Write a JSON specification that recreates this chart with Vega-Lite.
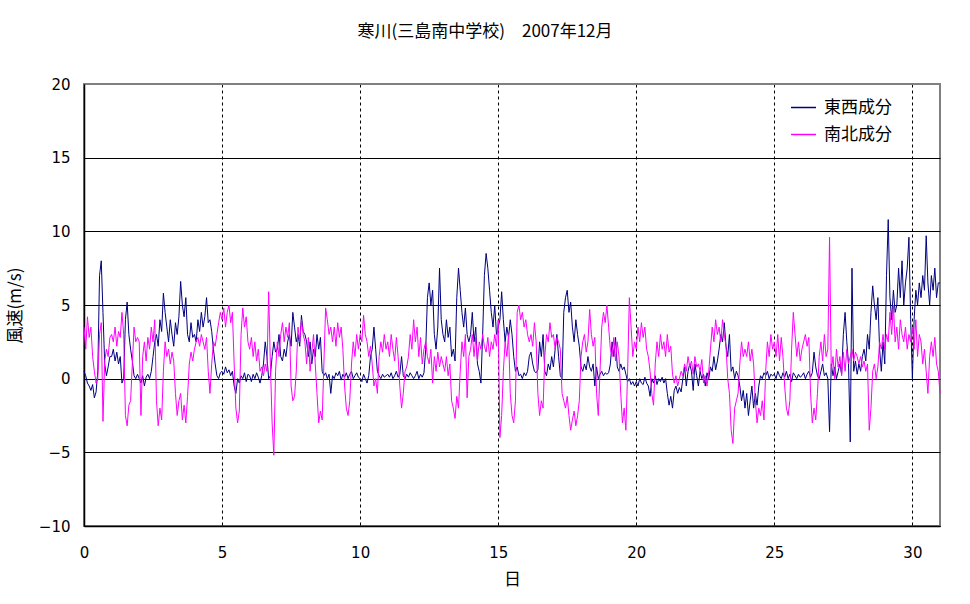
{
"$schema":"https://vega.github.io/schema/vega-lite/v6.json",
"width":856,"height":442,
"autosize":{"type":"none"},
"padding":{"left":84,"top":84,"right":30,"bottom":78},
"background":"white",
"config":{"font":"Noto Sans CJK JP","view":{"stroke":"#808080","strokeWidth":2}},
"title":{"text":"寒川(三島南中学校)　2007年12月","fontSize":17,"fontWeight":"normal","font":"Noto Sans CJK JP","color":"black","anchor":"middle","frame":"group","dx":-27,"offset":36},
"data":{"values":[
{"d":0,"e":0.5,"n":3.5},{"d":0.0625,"e":0.2,"n":2.0},{"d":0.125,"e":-0.3,"n":4.2},{"d":0.1875,"e":-0.5,"n":2.8},{"d":0.25,"e":-0.8,"n":3.5},{"d":0.3125,"e":-0.4,"n":1.5},{"d":0.375,"e":-1.3,"n":0.5},{"d":0.4375,"e":-0.9,"n":-0.3},{"d":0.5,"e":0.5,"n":0.0},{"d":0.5625,"e":7.0,"n":3.0},{"d":0.625,"e":8.0,"n":3.8},{"d":0.6875,"e":4.5,"n":-2.9},{"d":0.75,"e":1.0,"n":1.2},{"d":0.8125,"e":0.2,"n":2.0},{"d":0.875,"e":0.8,"n":1.5},{"d":0.9375,"e":1.5,"n":2.8},
{"d":1,"e":1.5,"n":3.0},{"d":1.0625,"e":2.0,"n":2.5},{"d":1.125,"e":1.2,"n":3.5},{"d":1.1875,"e":1.8,"n":2.2},{"d":1.25,"e":1.0,"n":3.2},{"d":1.3125,"e":1.5,"n":2.8},{"d":1.375,"e":-0.3,"n":4.5},{"d":1.4375,"e":0.0,"n":3.0},{"d":1.5,"e":4.0,"n":-2.5},{"d":1.5625,"e":5.2,"n":-3.2},{"d":1.625,"e":3.0,"n":-1.8},{"d":1.6875,"e":2.0,"n":-1.5},{"d":1.75,"e":1.2,"n":1.0},{"d":1.8125,"e":0.2,"n":3.5},{"d":1.875,"e":0.0,"n":2.5},{"d":1.9375,"e":0.3,"n":2.8},
{"d":2,"e":0.0,"n":2.5},{"d":2.0625,"e":-0.3,"n":-2.5},{"d":2.125,"e":0.2,"n":1.5},{"d":2.1875,"e":-0.5,"n":2.5},{"d":2.25,"e":0.1,"n":1.2},{"d":2.3125,"e":0.3,"n":2.8},{"d":2.375,"e":0.0,"n":2.0},{"d":2.4375,"e":0.5,"n":3.5},{"d":2.5,"e":1.5,"n":2.5},{"d":2.5625,"e":2.5,"n":4.0},{"d":2.625,"e":3.0,"n":-1.5},{"d":2.6875,"e":2.2,"n":-3.2},{"d":2.75,"e":4.0,"n":-2.0},{"d":2.8125,"e":3.2,"n":-2.8},{"d":2.875,"e":5.8,"n":0.5},{"d":2.9375,"e":4.5,"n":2.5},
{"d":3,"e":3.5,"n":1.5},{"d":3.0625,"e":2.5,"n":2.0},{"d":3.125,"e":4.0,"n":1.0},{"d":3.1875,"e":3.0,"n":1.8},{"d":3.25,"e":2.2,"n":1.2},{"d":3.3125,"e":3.8,"n":-1.0},{"d":3.375,"e":3.0,"n":-2.5},{"d":3.4375,"e":4.2,"n":-1.5},{"d":3.5,"e":6.6,"n":-1.0},{"d":3.5625,"e":5.0,"n":-2.8},{"d":3.625,"e":4.2,"n":-1.8},{"d":3.6875,"e":5.5,"n":-3.0},{"d":3.75,"e":3.0,"n":-1.2},{"d":3.8125,"e":2.5,"n":1.0},{"d":3.875,"e":3.8,"n":1.8},{"d":3.9375,"e":2.8,"n":1.2},
{"d":4,"e":3.0,"n":2.0},{"d":4.0625,"e":2.5,"n":2.5},{"d":4.125,"e":4.0,"n":2.8},{"d":4.1875,"e":3.2,"n":2.2},{"d":4.25,"e":4.5,"n":3.0},{"d":4.3125,"e":3.5,"n":2.5},{"d":4.375,"e":4.2,"n":2.0},{"d":4.4375,"e":5.5,"n":2.8},{"d":4.5,"e":3.8,"n":0.5},{"d":4.5625,"e":4.0,"n":-1.0},{"d":4.625,"e":3.2,"n":1.0},{"d":4.6875,"e":2.0,"n":2.5},{"d":4.75,"e":1.0,"n":2.2},{"d":4.8125,"e":0.2,"n":3.0},{"d":4.875,"e":0.0,"n":3.8},{"d":4.9375,"e":0.4,"n":4.5},
{"d":5,"e":0.5,"n":4.0},{"d":5.0625,"e":0.3,"n":4.8},{"d":5.125,"e":0.8,"n":3.5},{"d":5.1875,"e":0.4,"n":4.5},{"d":5.25,"e":0.6,"n":5.0},{"d":5.3125,"e":0.2,"n":3.8},{"d":5.375,"e":0.5,"n":4.5},{"d":5.4375,"e":-0.5,"n":1.0},{"d":5.5,"e":-1.0,"n":-2.0},{"d":5.5625,"e":0.0,"n":-3.0},{"d":5.625,"e":-0.3,"n":-2.2},{"d":5.6875,"e":0.2,"n":3.0},{"d":5.75,"e":0.0,"n":4.8},{"d":5.8125,"e":0.4,"n":3.5},{"d":5.875,"e":-0.2,"n":4.2},{"d":5.9375,"e":0.3,"n":2.5},
{"d":6,"e":0.2,"n":2.0},{"d":6.0625,"e":-0.2,"n":2.8},{"d":6.125,"e":0.3,"n":1.5},{"d":6.1875,"e":0.0,"n":2.5},{"d":6.25,"e":0.4,"n":1.2},{"d":6.3125,"e":0.1,"n":2.0},{"d":6.375,"e":-0.3,"n":0.5},{"d":6.4375,"e":0.2,"n":0.8},{"d":6.5,"e":1.0,"n":0.2},{"d":6.5625,"e":2.5,"n":1.0},{"d":6.625,"e":1.5,"n":0.5},{"d":6.6875,"e":0.0,"n":5.9},{"d":6.75,"e":0.2,"n":1.0},{"d":6.8125,"e":1.5,"n":-3.0},{"d":6.875,"e":2.5,"n":-5.2},{"d":6.9375,"e":1.8,"n":0.5},
{"d":7,"e":2.0,"n":2.5},{"d":7.0625,"e":3.0,"n":1.5},{"d":7.125,"e":1.5,"n":3.0},{"d":7.1875,"e":1.2,"n":3.8},{"d":7.25,"e":2.0,"n":2.5},{"d":7.3125,"e":1.5,"n":3.5},{"d":7.375,"e":2.5,"n":2.8},{"d":7.4375,"e":3.0,"n":3.8},{"d":7.5,"e":2.2,"n":-0.5},{"d":7.5625,"e":4.5,"n":-1.5},{"d":7.625,"e":3.5,"n":-1.2},{"d":7.6875,"e":2.5,"n":0.5},{"d":7.75,"e":3.0,"n":3.5},{"d":7.8125,"e":2.2,"n":2.5},{"d":7.875,"e":4.3,"n":4.0},{"d":7.9375,"e":3.2,"n":3.0},
{"d":8,"e":3.0,"n":2.5},{"d":8.0625,"e":2.5,"n":1.0},{"d":8.125,"e":1.5,"n":2.8},{"d":8.1875,"e":2.5,"n":0.5},{"d":8.25,"e":1.0,"n":1.8},{"d":8.3125,"e":2.0,"n":3.0},{"d":8.375,"e":1.5,"n":1.0},{"d":8.4375,"e":3.0,"n":-1.0},{"d":8.5,"e":2.0,"n":-3.0},{"d":8.5625,"e":2.8,"n":-2.2},{"d":8.625,"e":0.5,"n":-2.8},{"d":8.6875,"e":0.2,"n":1.0},{"d":8.75,"e":0.4,"n":4.8},{"d":8.8125,"e":0.0,"n":4.0},{"d":8.875,"e":0.3,"n":3.0},{"d":8.9375,"e":-1.0,"n":3.5},
{"d":9,"e":0.2,"n":2.5},{"d":9.0625,"e":0.0,"n":3.5},{"d":9.125,"e":0.4,"n":2.2},{"d":9.1875,"e":0.2,"n":3.8},{"d":9.25,"e":0.5,"n":2.8},{"d":9.3125,"e":-0.1,"n":3.5},{"d":9.375,"e":0.3,"n":2.0},{"d":9.4375,"e":0.1,"n":-0.5},{"d":9.5,"e":0.4,"n":-2.0},{"d":9.5625,"e":0.0,"n":-2.5},{"d":9.625,"e":0.3,"n":-1.5},{"d":9.6875,"e":0.5,"n":1.0},{"d":9.75,"e":0.0,"n":2.5},{"d":9.8125,"e":0.2,"n":1.5},{"d":9.875,"e":0.4,"n":3.0},{"d":9.9375,"e":0.1,"n":2.0},
{"d":10,"e":0.0,"n":3.0},{"d":10.0625,"e":-0.2,"n":2.5},{"d":10.125,"e":0.3,"n":4.3},{"d":10.1875,"e":0.0,"n":3.0},{"d":10.25,"e":-0.3,"n":2.5},{"d":10.3125,"e":0.2,"n":1.5},{"d":10.375,"e":1.5,"n":2.2},{"d":10.4375,"e":2.0,"n":1.0},{"d":10.5,"e":3.5,"n":-0.5},{"d":10.5625,"e":2.0,"n":0.0},{"d":10.625,"e":0.5,"n":-1.0},{"d":10.6875,"e":0.2,"n":1.5},{"d":10.75,"e":0.0,"n":2.5},{"d":10.8125,"e":0.3,"n":1.8},{"d":10.875,"e":0.1,"n":3.0},{"d":10.9375,"e":0.2,"n":2.0},
{"d":11,"e":0.3,"n":2.5},{"d":11.0625,"e":0.1,"n":1.5},{"d":11.125,"e":0.4,"n":3.0},{"d":11.1875,"e":0.0,"n":2.0},{"d":11.25,"e":0.2,"n":1.2},{"d":11.3125,"e":0.5,"n":2.8},{"d":11.375,"e":0.1,"n":1.5},{"d":11.4375,"e":0.3,"n":-0.5},{"d":11.5,"e":1.5,"n":-2.0},{"d":11.5625,"e":0.2,"n":-1.0},{"d":11.625,"e":0.0,"n":0.5},{"d":11.6875,"e":0.3,"n":0.8},{"d":11.75,"e":0.1,"n":1.5},{"d":11.8125,"e":0.4,"n":3.0},{"d":11.875,"e":0.2,"n":2.0},{"d":11.9375,"e":0.0,"n":4.0},
{"d":12,"e":0.2,"n":2.5},{"d":12.0625,"e":0.5,"n":3.5},{"d":12.125,"e":0.0,"n":1.5},{"d":12.1875,"e":0.3,"n":2.8},{"d":12.25,"e":0.1,"n":1.0},{"d":12.3125,"e":0.4,"n":2.0},{"d":12.375,"e":2.0,"n":2.5},{"d":12.4375,"e":5.5,"n":1.5},{"d":12.5,"e":6.5,"n":1.0},{"d":12.5625,"e":5.0,"n":2.0},{"d":12.625,"e":6.0,"n":-0.3},{"d":12.6875,"e":3.0,"n":1.5},{"d":12.75,"e":2.0,"n":0.5},{"d":12.8125,"e":3.5,"n":1.8},{"d":12.875,"e":7.5,"n":0.8},{"d":12.9375,"e":4.0,"n":1.5},
{"d":13,"e":3.0,"n":1.0},{"d":13.0625,"e":2.5,"n":0.5},{"d":13.125,"e":4.0,"n":1.5},{"d":13.1875,"e":2.8,"n":0.2},{"d":13.25,"e":3.5,"n":1.0},{"d":13.3125,"e":1.5,"n":-1.5},{"d":13.375,"e":2.0,"n":-2.0},{"d":13.4375,"e":1.2,"n":-2.7},{"d":13.5,"e":5.5,"n":-1.2},{"d":13.5625,"e":7.5,"n":-2.0},{"d":13.625,"e":6.0,"n":0.5},{"d":13.6875,"e":4.5,"n":2.5},{"d":13.75,"e":3.5,"n":1.5},{"d":13.8125,"e":4.8,"n":3.0},{"d":13.875,"e":3.0,"n":-1.3},{"d":13.9375,"e":2.5,"n":1.5},
{"d":14,"e":3.0,"n":2.0},{"d":14.0625,"e":4.5,"n":3.0},{"d":14.125,"e":2.5,"n":1.5},{"d":14.1875,"e":3.5,"n":2.8},{"d":14.25,"e":1.0,"n":1.2},{"d":14.3125,"e":0.5,"n":2.5},{"d":14.375,"e":-0.3,"n":2.0},{"d":14.4375,"e":3.0,"n":3.0},{"d":14.5,"e":7.0,"n":2.2},{"d":14.5625,"e":8.5,"n":1.8},{"d":14.625,"e":7.5,"n":2.8},{"d":14.6875,"e":6.0,"n":1.5},{"d":14.75,"e":4.5,"n":2.5},{"d":14.8125,"e":3.5,"n":2.0},{"d":14.875,"e":5.0,"n":3.0},{"d":14.9375,"e":3.0,"n":2.2},
{"d":15,"e":3.5,"n":4.0},{"d":15.0625,"e":4.0,"n":-4.0},{"d":15.125,"e":5.9,"n":-2.5},{"d":15.1875,"e":4.0,"n":0.5},{"d":15.25,"e":2.5,"n":2.5},{"d":15.3125,"e":3.5,"n":1.5},{"d":15.375,"e":2.8,"n":3.0},{"d":15.4375,"e":4.0,"n":-1.0},{"d":15.5,"e":3.0,"n":-2.5},{"d":15.5625,"e":1.5,"n":-3.0},{"d":15.625,"e":0.5,"n":-1.5},{"d":15.6875,"e":0.8,"n":4.5},{"d":15.75,"e":0.2,"n":5.0},{"d":15.8125,"e":0.3,"n":4.0},{"d":15.875,"e":0.0,"n":4.5},{"d":15.9375,"e":0.4,"n":3.5},
{"d":16,"e":0.2,"n":4.0},{"d":16.0625,"e":0.5,"n":3.0},{"d":16.125,"e":1.5,"n":2.5},{"d":16.1875,"e":1.8,"n":3.0},{"d":16.25,"e":1.0,"n":2.2},{"d":16.3125,"e":0.5,"n":3.8},{"d":16.375,"e":0.4,"n":2.5},{"d":16.4375,"e":0.6,"n":-1.0},{"d":16.5,"e":2.5,"n":-2.5},{"d":16.5625,"e":1.5,"n":-1.5},{"d":16.625,"e":3.0,"n":-2.0},{"d":16.6875,"e":0.5,"n":1.5},{"d":16.75,"e":0.2,"n":3.0},{"d":16.8125,"e":1.0,"n":2.5},{"d":16.875,"e":0.6,"n":3.8},{"d":16.9375,"e":1.5,"n":2.8},
{"d":17,"e":0.8,"n":3.0},{"d":17.0625,"e":2.0,"n":2.0},{"d":17.125,"e":3.0,"n":2.8},{"d":17.1875,"e":1.5,"n":2.5},{"d":17.25,"e":0.2,"n":2.0},{"d":17.3125,"e":0.0,"n":-1.0},{"d":17.375,"e":4.5,"n":-1.5},{"d":17.4375,"e":5.5,"n":-2.0},{"d":17.5,"e":6.0,"n":-1.2},{"d":17.5625,"e":4.5,"n":-2.5},{"d":17.625,"e":5.2,"n":-3.5},{"d":17.6875,"e":3.5,"n":-2.8},{"d":17.75,"e":2.5,"n":-2.2},{"d":17.8125,"e":4.0,"n":-3.2},{"d":17.875,"e":3.0,"n":-2.5},{"d":17.9375,"e":2.2,"n":-1.5},
{"d":18,"e":0.8,"n":1.5},{"d":18.0625,"e":0.5,"n":2.5},{"d":18.125,"e":1.0,"n":3.0},{"d":18.1875,"e":0.6,"n":1.8},{"d":18.25,"e":1.5,"n":2.5},{"d":18.3125,"e":0.8,"n":4.7},{"d":18.375,"e":0.5,"n":3.0},{"d":18.4375,"e":1.0,"n":2.2},{"d":18.5,"e":-0.5,"n":2.8},{"d":18.5625,"e":0.8,"n":-1.0},{"d":18.625,"e":0.0,"n":-2.5},{"d":18.6875,"e":0.3,"n":0.5},{"d":18.75,"e":0.5,"n":3.5},{"d":18.8125,"e":0.2,"n":4.5},{"d":18.875,"e":0.4,"n":3.8},{"d":18.9375,"e":0.3,"n":5.0},
{"d":19,"e":0.4,"n":3.5},{"d":19.0625,"e":1.0,"n":2.0},{"d":19.125,"e":2.5,"n":1.5},{"d":19.1875,"e":1.5,"n":2.8},{"d":19.25,"e":2.8,"n":1.2},{"d":19.3125,"e":0.8,"n":2.5},{"d":19.375,"e":0.5,"n":1.5},{"d":19.4375,"e":1.0,"n":-1.0},{"d":19.5,"e":0.6,"n":-3.0},{"d":19.5625,"e":0.8,"n":-2.0},{"d":19.625,"e":0.3,"n":-3.5},{"d":19.6875,"e":-0.2,"n":0.5},{"d":19.75,"e":0.0,"n":5.5},{"d":19.8125,"e":-0.4,"n":3.5},{"d":19.875,"e":-0.2,"n":1.5},{"d":19.9375,"e":-0.5,"n":2.5},
{"d":20,"e":-0.2,"n":2.0},{"d":20.0625,"e":-0.5,"n":3.5},{"d":20.125,"e":0.0,"n":2.5},{"d":20.1875,"e":-0.3,"n":3.8},{"d":20.25,"e":-0.4,"n":2.8},{"d":20.3125,"e":0.1,"n":3.5},{"d":20.375,"e":-0.3,"n":2.0},{"d":20.4375,"e":-0.5,"n":1.5},{"d":20.5,"e":-1.2,"n":0.5},{"d":20.5625,"e":0.0,"n":-1.0},{"d":20.625,"e":-0.3,"n":-1.8},{"d":20.6875,"e":0.2,"n":1.0},{"d":20.75,"e":-0.4,"n":2.5},{"d":20.8125,"e":0.0,"n":1.5},{"d":20.875,"e":-0.2,"n":3.0},{"d":20.9375,"e":0.1,"n":2.0},
{"d":21,"e":-0.3,"n":2.5},{"d":21.0625,"e":0.0,"n":1.5},{"d":21.125,"e":-1.0,"n":3.0},{"d":21.1875,"e":-1.8,"n":1.8},{"d":21.25,"e":-1.2,"n":2.2},{"d":21.3125,"e":-2.0,"n":0.3},{"d":21.375,"e":-0.8,"n":-0.3},{"d":21.4375,"e":-0.5,"n":0.2},{"d":21.5,"e":-1.0,"n":-0.5},{"d":21.5625,"e":-0.6,"n":0.0},{"d":21.625,"e":-0.9,"n":0.5},{"d":21.6875,"e":0.0,"n":0.2},{"d":21.75,"e":0.8,"n":1.0},{"d":21.8125,"e":-0.5,"n":0.5},{"d":21.875,"e":0.5,"n":1.5},{"d":21.9375,"e":1.0,"n":0.8},
{"d":22,"e":0.5,"n":1.2},{"d":22.0625,"e":-0.8,"n":0.3},{"d":22.125,"e":1.0,"n":1.5},{"d":22.1875,"e":0.2,"n":0.8},{"d":22.25,"e":-0.5,"n":1.0},{"d":22.3125,"e":0.5,"n":0.5},{"d":22.375,"e":0.0,"n":1.3},{"d":22.4375,"e":0.3,"n":-0.3},{"d":22.5,"e":-0.5,"n":0.2},{"d":22.5625,"e":0.4,"n":-0.5},{"d":22.625,"e":0.0,"n":0.5},{"d":22.6875,"e":0.8,"n":2.0},{"d":22.75,"e":0.5,"n":3.5},{"d":22.8125,"e":1.5,"n":2.5},{"d":22.875,"e":0.6,"n":4.0},{"d":22.9375,"e":1.2,"n":3.0},
{"d":23,"e":2.0,"n":3.5},{"d":23.0625,"e":3.0,"n":2.5},{"d":23.125,"e":2.5,"n":4.0},{"d":23.1875,"e":3.8,"n":3.0},{"d":23.25,"e":2.2,"n":2.2},{"d":23.3125,"e":1.5,"n":0.0},{"d":23.375,"e":3.0,"n":-1.0},{"d":23.4375,"e":0.5,"n":-3.5},{"d":23.5,"e":0.8,"n":-4.4},{"d":23.5625,"e":0.0,"n":-2.0},{"d":23.625,"e":0.5,"n":-1.5},{"d":23.6875,"e":0.2,"n":-1.0},{"d":23.75,"e":-0.5,"n":1.0},{"d":23.8125,"e":-1.5,"n":2.5},{"d":23.875,"e":-0.8,"n":1.5},{"d":23.9375,"e":-2.0,"n":2.0},
{"d":24,"e":-1.0,"n":1.5},{"d":24.0625,"e":-2.5,"n":2.5},{"d":24.125,"e":-1.5,"n":1.2},{"d":24.1875,"e":-0.5,"n":2.0},{"d":24.25,"e":-2.0,"n":1.0},{"d":24.3125,"e":-1.0,"n":-1.5},{"d":24.375,"e":-1.8,"n":-3.0},{"d":24.4375,"e":-0.5,"n":-2.0},{"d":24.5,"e":0.2,"n":-2.5},{"d":24.5625,"e":0.0,"n":-1.5},{"d":24.625,"e":0.4,"n":-2.8},{"d":24.6875,"e":0.2,"n":0.5},{"d":24.75,"e":0.5,"n":2.5},{"d":24.8125,"e":0.0,"n":1.5},{"d":24.875,"e":0.3,"n":3.0},{"d":24.9375,"e":0.2,"n":2.0},
{"d":25,"e":0.3,"n":2.5},{"d":25.0625,"e":0.0,"n":1.5},{"d":25.125,"e":0.5,"n":3.0},{"d":25.1875,"e":0.2,"n":1.2},{"d":25.25,"e":0.0,"n":2.8},{"d":25.3125,"e":0.4,"n":1.5},{"d":25.375,"e":0.1,"n":-0.5},{"d":25.4375,"e":0.5,"n":-2.0},{"d":25.5,"e":0.0,"n":-2.5},{"d":25.5625,"e":0.3,"n":-1.5},{"d":25.625,"e":-0.2,"n":2.0},{"d":25.6875,"e":0.4,"n":4.5},{"d":25.75,"e":0.2,"n":3.0},{"d":25.8125,"e":0.0,"n":1.5},{"d":25.875,"e":0.3,"n":2.5},{"d":25.9375,"e":0.1,"n":1.2},
{"d":26,"e":0.2,"n":2.0},{"d":26.0625,"e":0.4,"n":2.5},{"d":26.125,"e":0.0,"n":3.0},{"d":26.1875,"e":0.3,"n":2.2},{"d":26.25,"e":0.5,"n":2.8},{"d":26.3125,"e":0.1,"n":-1.0},{"d":26.375,"e":0.4,"n":-3.0},{"d":26.4375,"e":1.8,"n":-2.0},{"d":26.5,"e":0.8,"n":-2.8},{"d":26.5625,"e":0.2,"n":-1.0},{"d":26.625,"e":0.0,"n":1.5},{"d":26.6875,"e":0.5,"n":2.5},{"d":26.75,"e":1.0,"n":1.2},{"d":26.8125,"e":0.2,"n":3.0},{"d":26.875,"e":0.4,"n":1.5},{"d":26.9375,"e":0.0,"n":2.0},
{"d":27,"e":-3.6,"n":9.6},{"d":27.0625,"e":1.0,"n":0.5},{"d":27.125,"e":0.2,"n":1.5},{"d":27.1875,"e":0.8,"n":0.0},{"d":27.25,"e":0.0,"n":2.0},{"d":27.3125,"e":0.5,"n":0.8},{"d":27.375,"e":1.0,"n":1.5},{"d":27.4375,"e":0.3,"n":0.2},{"d":27.5,"e":3.0,"n":1.8},{"d":27.5625,"e":4.5,"n":0.5},{"d":27.625,"e":2.5,"n":2.0},{"d":27.6875,"e":1.0,"n":1.0},{"d":27.75,"e":-4.3,"n":1.5},{"d":27.8125,"e":7.5,"n":2.0},{"d":27.875,"e":0.5,"n":1.2},{"d":27.9375,"e":1.2,"n":1.8},
{"d":28,"e":0.3,"n":1.5},{"d":28.0625,"e":1.0,"n":1.0},{"d":28.125,"e":0.5,"n":1.5},{"d":28.1875,"e":1.5,"n":0.8},{"d":28.25,"e":2.0,"n":1.2},{"d":28.3125,"e":1.2,"n":0.5},{"d":28.375,"e":3.0,"n":1.0},{"d":28.4375,"e":2.0,"n":-3.5},{"d":28.5,"e":4.5,"n":-2.0},{"d":28.5625,"e":6.3,"n":0.5},{"d":28.625,"e":5.0,"n":1.0},{"d":28.6875,"e":4.0,"n":0.0},{"d":28.75,"e":5.5,"n":0.8},{"d":28.8125,"e":2.0,"n":2.5},{"d":28.875,"e":0.5,"n":2.0},{"d":28.9375,"e":2.5,"n":3.0},
{"d":29,"e":1.0,"n":2.0},{"d":29.0625,"e":7.0,"n":3.0},{"d":29.125,"e":10.8,"n":2.5},{"d":29.1875,"e":5.5,"n":4.5},{"d":29.25,"e":4.0,"n":3.0},{"d":29.3125,"e":6.0,"n":5.0},{"d":29.375,"e":4.5,"n":2.5},{"d":29.4375,"e":5.0,"n":3.5},{"d":29.5,"e":7.5,"n":2.0},{"d":29.5625,"e":5.5,"n":4.0},{"d":29.625,"e":8.0,"n":3.0},{"d":29.6875,"e":5.0,"n":2.5},{"d":29.75,"e":6.5,"n":3.5},{"d":29.8125,"e":7.5,"n":2.0},{"d":29.875,"e":9.6,"n":3.0},{"d":29.9375,"e":4.0,"n":2.5},
{"d":30,"e":0.0,"n":3.5},{"d":30.0625,"e":4.0,"n":2.0},{"d":30.125,"e":6.0,"n":4.0},{"d":30.1875,"e":5.0,"n":1.5},{"d":30.25,"e":6.5,"n":3.0},{"d":30.3125,"e":5.5,"n":2.5},{"d":30.375,"e":7.0,"n":1.0},{"d":30.4375,"e":6.0,"n":2.0},{"d":30.5,"e":9.7,"n":0.5},{"d":30.5625,"e":6.5,"n":-1.0},{"d":30.625,"e":5.0,"n":1.5},{"d":30.6875,"e":7.0,"n":2.5},{"d":30.75,"e":6.0,"n":1.5},{"d":30.8125,"e":7.5,"n":2.8},{"d":30.875,"e":5.5,"n":1.0},{"d":30.9375,"e":6.5,"n":0.5},
{"d":31,"e":6.5,"n":-1.0}
]},
"transform":[{"fold":["e","n"],"as":["k","v"]}],
"encoding":{
"x":{"field":"d","type":"quantitative","scale":{"domain":[0,31],"nice":false,"zero":false},
"axis":{"title":"日","values":[0,5,10,15,20,25,30],"grid":true,"gridColor":"black","gridDash":[3,3],"gridWidth":1,"domainColor":"black","domainWidth":1.5,"ticks":false,"labelFlush":false,"labelPadding":19,"labelFontSize":15,"labelColor":"black","labelFont":"DejaVu Sans","titleFontSize":17,"titleFontWeight":"normal","titleColor":"black","titlePadding":11,"labelFontWeight":"normal"}},
"y":{"field":"v","type":"quantitative","scale":{"domain":[-10,20],"nice":false},
"axis":{"title":"風速(m/s)","values":[-10,-5,0,5,10,15,20],"grid":true,"gridColor":{"condition":{"test":"datum.value == 20","value":"#808080"},"value":"black"},"gridWidth":1,"domainColor":"black","domainWidth":1.5,"ticks":false,"labelFlush":false,"labelPadding":14,"labelFontSize":15,"labelColor":"black","labelFont":"DejaVu Sans","titleFontSize":17,"titleFontWeight":"normal","titleColor":"black","titlePadding":14}},
"color":{"field":"k","type":"nominal","scale":{"domain":["e","n"],"range":["#000080","#FF00FF"]},
"legend":{"title":null,"orient":"none","legendX":706,"legendY":10,"symbolType":"stroke","symbolSize":625,"symbolStrokeWidth":1.5,"labelFontSize":17,"labelColor":"black","labelOffset":7,"rowPadding":5,"labelExpr":"datum.value == 'e' ? '東西成分' : '南北成分'"}}
},
"layer":[
{"transform":[{"filter":"datum.k == 'e'"}],"mark":{"type":"line","strokeWidth":1,"interpolate":"linear"}},
{"transform":[{"filter":"datum.k == 'n'"}],"mark":{"type":"line","strokeWidth":1,"interpolate":"linear"}}
]
}
